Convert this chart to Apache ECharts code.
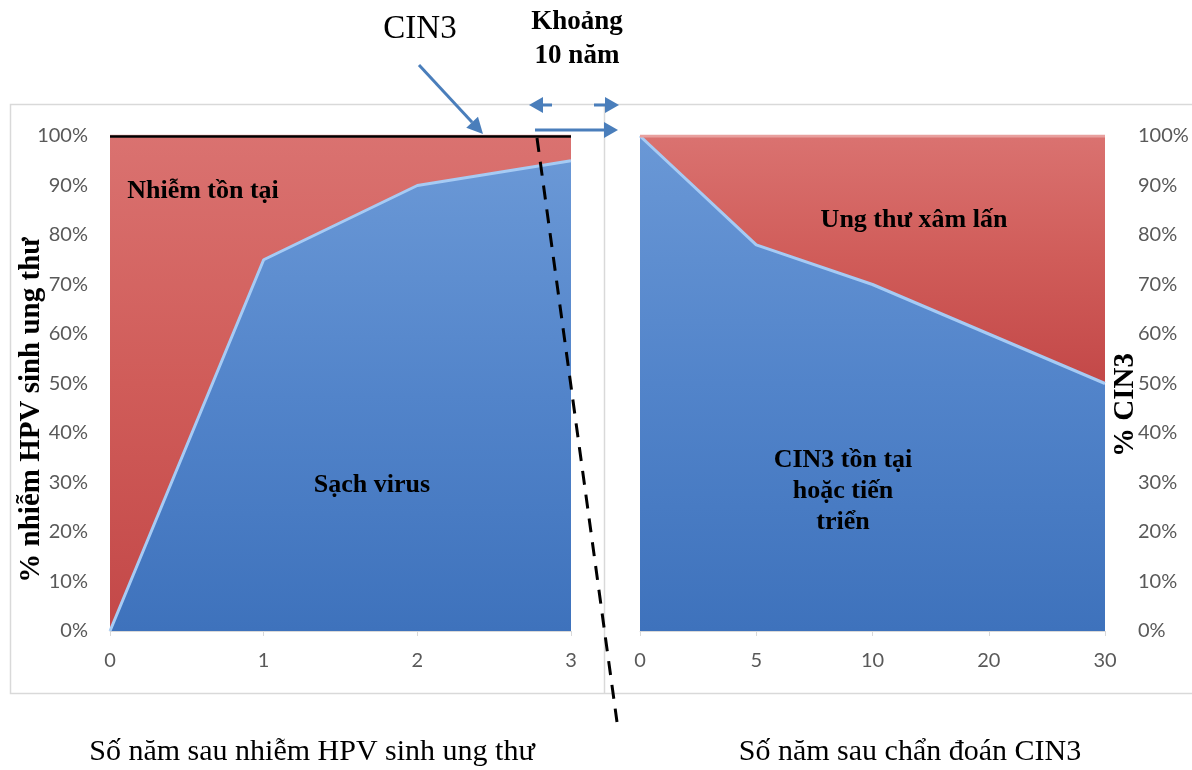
<!DOCTYPE html>
<html>
<head>
<meta charset="utf-8">
<script src="https://cdn.jsdelivr.net/npm/echarts@6/dist/echarts.min.js"></script>
<style>
  html, body { margin: 0; padding: 0; background: #ffffff; }
  #chart { width: 1192px; height: 770px; }
</style>
</head>
<body>
<div id="chart"></div>
<script>
// Left panel: years after oncogenic HPV infection
const leftYears = ['0', '1', '2', '3'];
const leftCleared = [0, 75, 90, 95];     // Sạch virus
const leftPersist = [100, 25, 10, 5];    // Nhiễm tồn tại

// Right panel: years after CIN3 diagnosis
const rightYears = ['0', '5', '10', '20', '30'];
const rightCin3 = [100, 78, 70, 60, 50];   // CIN3 tồn tại hoặc tiến triển
const rightCancer = [0, 22, 30, 40, 50];   // Ung thư xâm lấn

const yMin = 0, yMax = 100, yStep = 10;

const chart = echarts.init(document.getElementById('chart'), null, { renderer: 'canvas' });

const tickFont = { color: '#595959', fontSize: 20, fontFamily: 'Lato, "Open Sans", sans-serif' };
const serif = '"Liberation Serif", "DejaVu Serif", serif';

const blueFill = new echarts.graphic.LinearGradient(0, 0, 0, 1, [
  { offset: 0, color: '#6a98d6' },
  { offset: 0.5, color: '#5284ca' },
  { offset: 1, color: '#3e72bc' }
]);
const redFill = new echarts.graphic.LinearGradient(0, 0, 0, 1, [
  { offset: 0, color: '#da7270' },
  { offset: 0.5, color: '#d05c59' },
  { offset: 1, color: '#c34848' }
]);

function xAxisOf(gridIndex, cats) {
  return {
    type: 'category', gridIndex, data: cats, boundaryGap: false,
    axisLine: { show: true, lineStyle: { color: '#d9d9d9', width: 1 } },
    axisTick: { show: true, alignWithLabel: true, length: 5, lineStyle: { color: '#d9d9d9' } },
    axisLabel: Object.assign({ margin: 20 }, tickFont),
    splitLine: { show: false }
  };
}
function yAxisOf(gridIndex, position, margin) {
  return {
    type: 'value', gridIndex, position, min: yMin, max: yMax, interval: yStep,
    axisLine: { show: false }, axisTick: { show: false }, splitLine: { show: false },
    axisLabel: Object.assign({ margin, formatter: '{value}%' }, tickFont)
  };
}
function areaSeries(name, axisIdx, stack, data, fill, edge, extra) {
  return Object.assign({
    name, type: 'line', xAxisIndex: axisIdx, yAxisIndex: axisIdx, stack, data,
    showSymbol: false, symbol: 'none', smooth: false,
    lineStyle: { color: edge, width: 3 },
    areaStyle: { color: fill, opacity: 1 },
    emphasis: { disabled: true }, silent: true
  }, extra || {});
}

// Arrow shaft plus triangular head, tip at (x2, y2)
function arrow(x1, y1, x2, y2, head, half) {
  const dx = x2 - x1, dy = y2 - y1, len = Math.hypot(dx, dy);
  const ux = dx / len, uy = dy / len;
  const bx = x2 - ux * head, by = y2 - uy * head;
  const px = -uy * half, py = ux * half;
  return [
    { type: 'line', z: 100, shape: { x1, y1, x2: bx, y2: by },
      style: { stroke: '#4a7ebb', lineWidth: 3 } },
    { type: 'polygon', z: 100, shape: { points: [[x2, y2], [bx + px, by + py], [bx - px, by - py]] },
      style: { fill: '#4a7ebb' } }
  ];
}
function label(text, x, y, size, bold, lh, extra) {
  return Object.assign({
    type: 'text', z: 110, x, y,
    style: {
      text, fill: '#000', font: (bold ? 'bold ' : '') + size + 'px ' + serif,
      textAlign: 'center', textVerticalAlign: 'middle', lineHeight: lh || size * 1.2
    }
  }, extra || {});
}

const option = {
  animation: false,
  backgroundColor: '#ffffff',
  grid: [
    { left: 110, right: 621, top: 136, bottom: 139 },
    { left: 640, right: 87, top: 136, bottom: 139 }
  ],
  xAxis: [xAxisOf(0, leftYears), xAxisOf(1, rightYears)],
  yAxis: [yAxisOf(0, 'left', 22), yAxisOf(1, 'right', 33)],
  series: [
    areaSeries('Sạch virus', 0, 'left', leftCleared, blueFill, '#a6cbf4'),
    areaSeries('Nhiễm tồn tại', 0, 'left', leftPersist, redFill, '#e8a09e', {
      markLine: {
        silent: true, symbol: 'none', label: { show: false },
        lineStyle: { color: '#000', width: 2.5, type: 'solid' },
        data: [[{ coord: ['0', 100] }, { coord: ['3', 100] }]]
      }
    }),
    areaSeries('CIN3 tồn tại hoặc tiến triển', 1, 'right', rightCin3, blueFill, '#a6cbf4'),
    areaSeries('Ung thư xâm lấn', 1, 'right', rightCancer, redFill, '#e8a09e')
  ],
  graphic: [
    // panel frames
    { type: 'rect', z: 1, shape: { x: 10.5, y: 104.5, width: 1200, height: 589 },
      style: { fill: null, stroke: '#d9d9d9', lineWidth: 1.5 } },
    { type: 'line', z: 1, shape: { x1: 604.5, y1: 104, x2: 604.5, y2: 693 },
      style: { stroke: '#d9d9d9', lineWidth: 1.5 } },

    // axis titles
    label('% nhiễm HPV sinh ung thư', 32, 410, 29, true, 0, { rotation: Math.PI / 2 }),
    label('% CIN3', 1126, 405, 29, true, 0, { rotation: Math.PI / 2 }),

    // region labels
    label('Nhiễm tồn tại', 203, 191, 26, true),
    label('Sạch virus', 372, 485, 26, true),
    label('Ung thư xâm lấn', 914, 220, 26, true),
    label('CIN3 tồn tại\nhoặc tiến\ntriển', 843, 491, 26, true, 31),

    // top annotations
    label('CIN3', 420, 29, 33, false),
    label('Khoảng\n10 năm', 577, 39, 27, true, 34),

    // bottom titles
    label('Số năm sau nhiễm HPV sinh ung thư', 312, 752, 30, false),
    label('Số năm sau chẩn đoán CIN3', 910, 752, 30, false),

    // dashed divider
    { type: 'line', z: 105, shape: { x1: 537, y1: 138, x2: 617, y2: 722 },
      style: { stroke: '#000', lineWidth: 3, lineDash: [14, 10] } },

    // arrows
    ...arrow(419, 65, 483, 134, 16, 8),
    ...arrow(552, 105, 529, 105, 14, 8),
    ...arrow(594, 105, 619, 105, 14, 8),
    ...arrow(535, 130, 618, 130, 14, 8)
  ]
};

chart.setOption(option);
</script>
</body>
</html>
